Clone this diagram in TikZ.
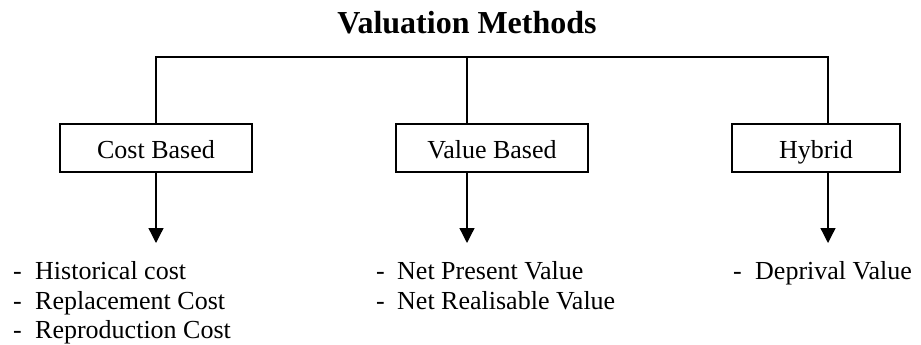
\documentclass[tikz,border=0pt]{standalone}
\usepackage{fontspec}
\setmainfont{Liberation Serif}
\usetikzlibrary{arrows.meta}
\begin{document}
\begin{tikzpicture}[x=1pt,y=-1pt,
  lw/.style={line width=1.3pt},
  box/.style={draw,lw,minimum height=48pt,inner sep=0pt,text height=22pt,text depth=2pt,font=\fontsize{26}{29.5}\selectfont},
  item/.style={anchor=base west,inner sep=0pt,font=\fontsize{26}{29.5}\selectfont},
  conn/.style={lw},
  arr/.style={lw,-{Triangle[width=15pt,length=15pt]}}]
\useasboundingbox (0,0) rectangle (921,345);
\node[anchor=base,inner sep=0pt,font=\fontsize{32}{36}\selectfont\bfseries] (title) at (467,34) {Valuation Methods};
\node[box,minimum width=192pt] (cost) at (156,148) {Cost Based};
\node[box,minimum width=192pt] (value) at (492,148) {Value Based};
\node[box,minimum width=168pt] (hyb) at (816,148) {Hybrid};
\coordinate (top) at (467,57);
\coordinate (vx) at (467,0);
\coordinate (hx) at (828,0);
\coordinate (ct) at (156,243);
\coordinate (vt) at (467,243);
\coordinate (ht) at (828,243);
\draw[conn] (cost.north) -- (cost.north |- top) -- (hx |- top) -- (hyb.north -| hx);
\draw[conn] (value.north -| vx) -- (vx |- top);
\draw[arr] (cost.south) -- (ct);
\draw[arr] (value.south -| vx) -- (vt);
\draw[arr] (hyb.south -| hx) -- (ht);
% cost list
\node[item] (cd1) at (13,279) {-};
\node[item] (c1) at (35,279) {Historical cost};
\node[item] (cd2) at (13,309) {-};
\node[item] (c2) at (35,309) {Replacement Cost};
\node[item] (cd3) at (13,338) {-};
\node[item] (c3) at (35,338) {Reproduction Cost};
% value list
\node[item] (vd1) at (376,279) {-};
\node[item] (v1) at (397,279) {Net Present Value};
\node[item] (vd2) at (376,309) {-};
\node[item] (v2) at (397,309) {Net Realisable Value};
% hybrid list
\node[item] (hd1) at (733,279) {-};
\node[item] (h1) at (755,279) {Deprival Value};
\end{tikzpicture}
\end{document}
